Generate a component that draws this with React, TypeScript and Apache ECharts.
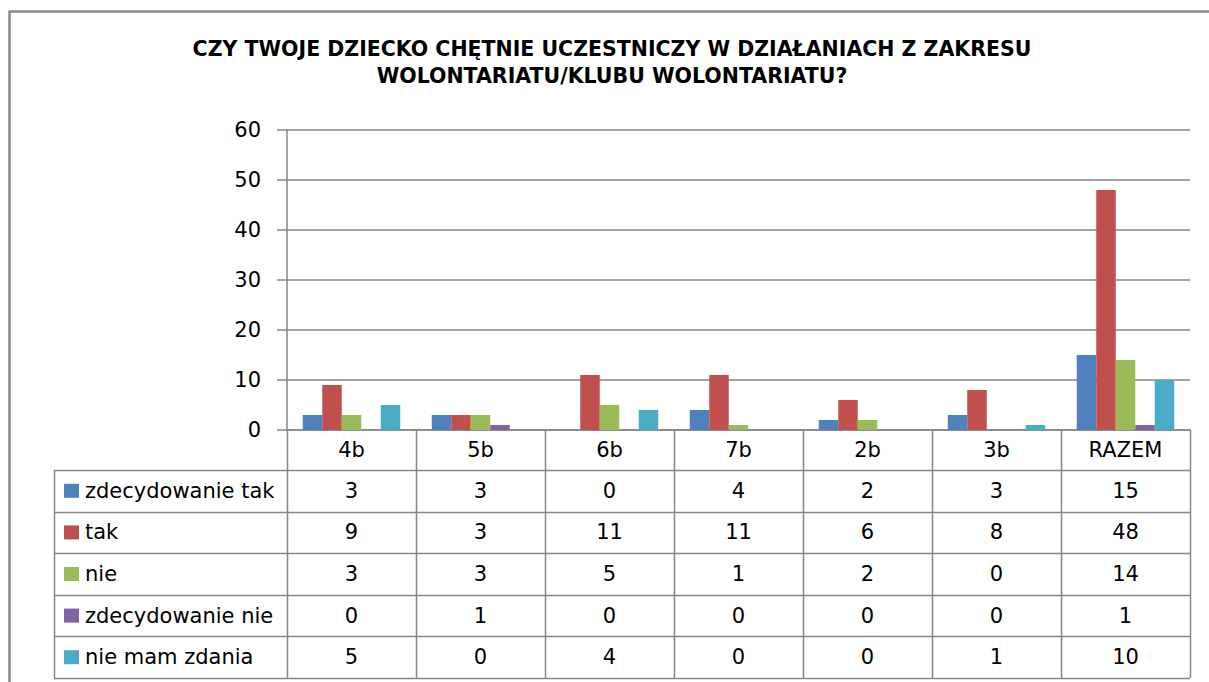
import React, { useEffect, useRef } from "react";
import * as echarts from "echarts";

const categories = ["4b", "5b", "6b", "7b", "2b", "3b", "RAZEM"];
const seriesNames = ["zdecydowanie tak", "tak", "nie", "zdecydowanie nie", "nie mam zdania"];
const zdecydowanieTak = [3, 3, 0, 4, 2, 3, 15];
const tak = [9, 3, 11, 11, 6, 8, 48];
const nie = [3, 3, 5, 1, 2, 0, 14];
const zdecydowanieNie = [0, 1, 0, 0, 0, 0, 1];
const nieMamZdania = [5, 0, 4, 0, 0, 1, 10];
const colors = ["#4F81BD", "#C0504D", "#9BBB59", "#8064A2", "#4BACC6"];
const titleLines = [
  "CZY TWOJE DZIECKO CHĘTNIE UCZESTNICZY W DZIAŁANIACH Z ZAKRESU",
  "WOLONTARIATU/KLUBU WOLONTARIATU?",
];

const W = 1209;
const H = 682;
const PLOT_L = 287;
const PLOT_R = 1190;
const ZERO_Y = 430;
const TOP_Y = 130;
const HEADER_B = 470;
const ROW_H = 41.6;
const TABLE_L = 54;
const LINE = "#868686";
const FONT = "'DejaVu Sans', 'Liberation Sans', sans-serif";
const FS = 21;

export default function App() {
  const ref = useRef<HTMLDivElement>(null);
  useEffect(() => {
    if (!ref.current) return;
    const chart = echarts.init(ref.current, null, { renderer: "svg" });
    const values = [zdecydowanieTak, tak, nie, zdecydowanieNie, nieMamZdania];
    const colW = (PLOT_R - PLOT_L) / categories.length;
    const tableBottom = HEADER_B + ROW_H * seriesNames.length;
    const g: any[] = [];
    // outer border
    g.push({
      type: "rect",
      shape: { x: 9.5, y: 11.5, width: W + 20, height: H + 20 },
      style: { fill: "none", stroke: "#888888", lineWidth: 2.5 },
      silent: true,
    });
    // title
    titleLines.forEach((t, i) => {
      g.push({
        type: "text",
        x: 612,
        y: 49 + i * 27,
        style: {
          text: t,
          fill: "#000",
          font: `bold 20.5px ${FONT}`,
          align: "center",
          verticalAlign: "middle",
        },
      });
    });
    // horizontal lines
    for (let r = 0; r <= seriesNames.length; r++) {
      const y = Math.round(HEADER_B + r * ROW_H) + 0.5;
      g.push({
        type: "line",
        shape: { x1: TABLE_L, y1: y, x2: PLOT_R, y2: y },
        style: { stroke: LINE, lineWidth: 1.5 },
        silent: true,
      });
    }
    // vertical lines
    g.push({
      type: "line",
      shape: { x1: TABLE_L + 0.5, y1: HEADER_B, x2: TABLE_L + 0.5, y2: tableBottom },
      style: { stroke: LINE, lineWidth: 1.5 },
      silent: true,
    });
    for (let c = 0; c <= categories.length; c++) {
      const x = Math.round(PLOT_L + c * colW) + 0.5;
      g.push({
        type: "line",
        shape: { x1: x, y1: ZERO_Y, x2: x, y2: tableBottom },
        style: { stroke: LINE, lineWidth: 1.5 },
        silent: true,
      });
    }
    // legend + values
    seriesNames.forEach((name, r) => {
      const cy = HEADER_B + ROW_H * (r + 0.5);
      g.push({
        type: "rect",
        shape: { x: 64, y: cy - 7, width: 15, height: 14 },
        style: { fill: colors[r] },
        silent: true,
      });
      g.push({
        type: "text",
        x: 85,
        y: cy,
        style: { text: name, fill: "#000", font: `${FS}px ${FONT}`, verticalAlign: "middle" },
      });
      values[r].forEach((v, c) => {
        g.push({
          type: "text",
          x: PLOT_L + colW * (c + 0.5),
          y: cy,
          style: {
            text: String(v),
            fill: "#000",
            font: `${FS}px ${FONT}`,
            align: "center",
            verticalAlign: "middle",
          },
        });
      });
    });

    chart.setOption({
      animation: false,
      backgroundColor: "#fff",
      grid: { left: PLOT_L, right: W - PLOT_R, top: TOP_Y, bottom: H - ZERO_Y, containLabel: false },
      xAxis: {
        type: "category",
        data: categories,
        axisLine: { show: true, lineStyle: { color: LINE, width: 1.5 } },
        axisTick: { show: false },
        axisLabel: { color: "#000", fontSize: FS, fontFamily: FONT, margin: 9, lineHeight: 22 },
        splitLine: { show: false },
      },
      yAxis: {
        type: "value",
        min: 0,
        max: 60,
        interval: 10,
        axisLine: { show: true, lineStyle: { color: LINE, width: 1.5 } },
        axisTick: { show: true, length: 10, lineStyle: { color: LINE, width: 1.5 } },
        axisLabel: { color: "#000", fontSize: FS, fontFamily: FONT, margin: 26 },
        splitLine: { show: true, lineStyle: { color: LINE, width: 1.5 } },
      },
      series: seriesNames.map((name, i) => ({
        name,
        type: "bar",
        data: values[i],
        barWidth: 19.5,
        barGap: "0%",
        itemStyle: { color: colors[i] },
      })),
      graphic: { elements: g },
    });
    return () => chart.dispose();
  }, []);
  return (
    <div
      ref={ref}
      style={{ position: "fixed", left: 0, top: 0, width: W, height: H, background: "#fff" }}
    />
  );
}
